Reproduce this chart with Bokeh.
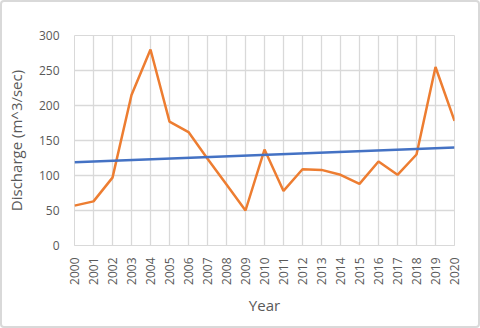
import math
from bokeh.plotting import figure
from bokeh.models import FixedTicker, Range1d
from bokeh.embed import file_html
from bokeh.resources import INLINE

years = list(range(2000, 2021))
discharge = [57, 63, 97, 215, 280, 177, 162, 124, 87, 50, 137, 78, 109, 108, 101, 88, 120, 101, 130, 255, 178]
trend_years = [2000, 2020]
trend_values = [119, 140]
y_ticks = [0, 50, 100, 150, 200, 250, 300]

p = figure(width=480, height=328, output_backend="svg", toolbar_location=None,
           x_range=Range1d(2000, 2020), y_range=Range1d(0, 300),
           min_border_left=74, min_border_right=26, min_border_top=35, min_border_bottom=83,
           styles={"box-shadow": "inset 0 0 0 2px #d9d9d9", "border-radius": "4px",
                   "background-color": "white"})
p.border_fill_color = None
p.background_fill_color = "white"

grid_col = "#d9d9d9"
p.outline_line_color = grid_col
p.xgrid.grid_line_color = grid_col
p.ygrid.grid_line_color = grid_col
p.xgrid.grid_line_width = 1.3
p.ygrid.grid_line_width = 1.3

p.xaxis.ticker = FixedTicker(ticks=years)
p.yaxis.ticker = FixedTicker(ticks=y_ticks)
p.xaxis.major_label_orientation = math.pi / 2
p.xaxis.axis_line_color = grid_col
p.yaxis.axis_line_color = None
for ax in (p.xaxis, p.yaxis):
    ax.major_tick_line_color = None
    ax.minor_tick_line_color = None
    ax.major_label_text_color = "#595959"
    ax.major_label_text_font = "Open Sans"
    ax.major_label_text_font_size = "12px"
    ax.axis_label_text_color = "#595959"
    ax.axis_label_text_font = "Open Sans"
    ax.axis_label_text_font_size = "15px"
    ax.axis_label_text_font_style = "normal"
p.xaxis.major_label_standoff = 6
p.yaxis.major_label_standoff = 9
p.xaxis.axis_label = "Year"
p.yaxis.axis_label = "Discharge (m^3/sec)"
p.xaxis.axis_label_standoff = 7
p.yaxis.axis_label_standoff = 10

p.line(years, discharge, line_color="#ED7D31", line_width=2.5)
p.line(trend_years, trend_values, line_color="#4472C4", line_width=2.5)

open("out.html", "w").write(file_html(p, INLINE))
